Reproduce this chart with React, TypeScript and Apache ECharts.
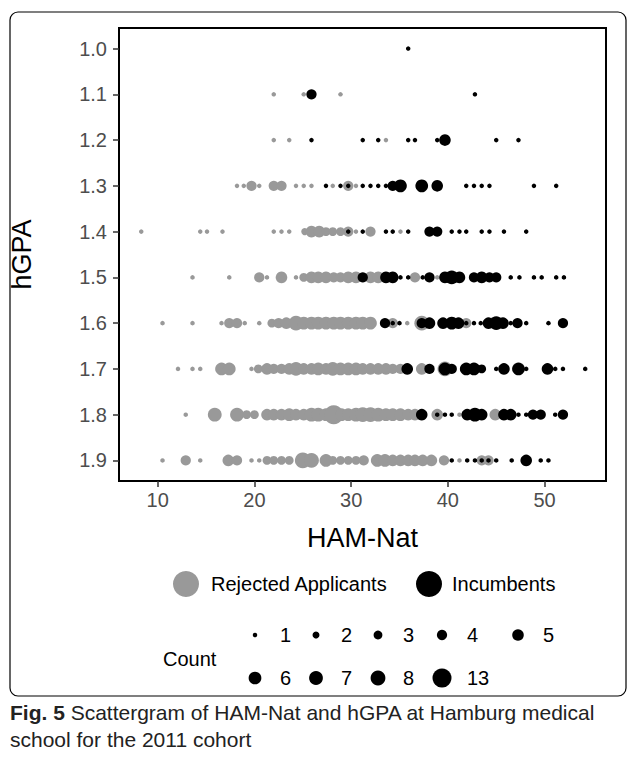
import React, { useEffect, useRef } from "react";
import * as echarts from "echarts";

// hGPA levels (y) and tick labels
const hGPALevels = [1.0, 1.1, 1.2, 1.3, 1.4, 1.5, 1.6, 1.7, 1.8, 1.9];
const xTicks = [10, 20, 30, 40, 50];

// [HAM-Nat, count] per hGPA level
const rej10: [number, number][] = [];
const inc10: [number, number][] = [[35.9, 1]];

const rej11: [number, number][] = [[22.0, 1], [25.1, 1], [28.9, 1]];
const inc11: [number, number][] = [[25.9, 4], [42.8, 1]];

const rej12: [number, number][] = [[22.0, 1], [23.6, 1], [33.6, 1]];
const inc12: [number, number][] = [[25.9, 1], [31.2, 1], [32.8, 1], [35.9, 1], [36.6, 1], [38.9, 1], [39.7, 5], [45.0, 1], [47.3, 1]];

const rej13: [number, number][] = [[18.2, 1], [18.9, 1], [19.7, 4], [20.5, 1], [22.0, 4], [22.8, 4], [24.3, 1], [25.1, 1], [25.9, 1], [28.1, 1], [29.7, 4], [30.5, 1]];
const inc13: [number, number][] = [[27.4, 1], [28.9, 1], [29.7, 1], [31.2, 1], [32.0, 1], [32.8, 1], [33.6, 1], [34.3, 4], [35.1, 6], [37.3, 6], [38.9, 5], [41.9, 1], [42.7, 1], [43.5, 1], [44.3, 1], [48.9, 1], [51.2, 1]];

const rej14: [number, number][] = [[8.3, 1], [14.4, 1], [15.1, 1], [16.7, 1], [22.0, 1], [22.8, 1], [23.6, 1], [25.2, 2], [25.9, 5], [26.7, 5], [27.4, 3], [28.1, 3], [28.9, 3], [29.7, 4], [30.5, 1], [32.0, 4], [35.1, 1]];
const inc14: [number, number][] = [[29.7, 1], [31.2, 1], [33.6, 1], [34.3, 1], [35.9, 1], [38.1, 4], [38.9, 4], [40.4, 1], [41.2, 1], [41.9, 1], [43.5, 1], [44.3, 1], [45.8, 1], [48.1, 1]];

const rej15: [number, number][] = [[13.6, 1], [17.4, 1], [20.5, 4], [21.3, 1], [22.8, 5], [24.3, 1], [25.1, 3], [25.9, 5], [26.6, 5], [27.4, 5], [28.2, 4], [28.9, 4], [29.7, 5], [30.5, 5], [32.0, 5], [32.8, 5], [36.6, 4], [38.9, 1]];
const inc15: [number, number][] = [[31.2, 4], [33.6, 5], [34.3, 5], [35.1, 1], [35.9, 1], [37.4, 1], [38.1, 4], [39.7, 5], [40.4, 7], [41.2, 5], [42.7, 4], [43.5, 5], [44.3, 4], [45.0, 4], [46.5, 1], [47.4, 1], [48.9, 1], [49.7, 1], [51.2, 1], [52.0, 1]];

const rej16: [number, number][] = [[10.5, 1], [13.6, 1], [16.6, 1], [17.4, 4], [18.2, 4], [19.0, 1], [20.5, 1], [21.8, 3], [22.5, 4], [23.3, 5], [24.3, 8], [25.1, 6], [25.9, 6], [26.6, 6], [27.4, 6], [28.2, 6], [28.9, 6], [29.7, 6], [30.5, 6], [31.2, 6], [32.0, 6], [34.3, 4], [35.8, 1], [37.3, 8], [41.9, 4]];
const inc16: [number, number][] = [[33.5, 4], [34.3, 1], [35.0, 1], [37.3, 4], [38.1, 5], [39.5, 5], [40.4, 6], [41.1, 5], [41.9, 1], [42.7, 1], [43.4, 1], [44.2, 5], [45.0, 7], [45.7, 5], [46.5, 1], [47.2, 4], [48.1, 1], [50.4, 1], [51.9, 4]];

const rej17: [number, number][] = [[12.1, 1], [13.6, 1], [14.4, 1], [16.6, 6], [17.4, 6], [19.7, 1], [20.4, 3], [21.3, 5], [22.0, 4], [22.8, 4], [23.6, 5], [24.3, 7], [25.1, 5], [25.9, 5], [26.6, 6], [27.4, 5], [28.1, 7], [28.9, 6], [29.7, 6], [30.5, 6], [31.2, 5], [32.0, 5], [32.8, 5], [33.6, 5], [34.3, 4], [35.1, 4], [37.3, 5], [39.7, 8]];
const inc17: [number, number][] = [[35.8, 5], [38.1, 4], [39.7, 6], [40.4, 4], [41.9, 6], [42.7, 6], [43.5, 3], [45.0, 1], [45.8, 5], [47.3, 6], [48.1, 1], [50.3, 5], [51.1, 1], [51.9, 1], [54.2, 1]];

const rej18: [number, number][] = [[12.9, 1], [15.9, 7], [18.2, 7], [19.2, 3], [20.0, 3], [21.3, 5], [22.0, 5], [22.8, 5], [23.6, 6], [24.3, 5], [25.1, 5], [25.9, 7], [26.6, 7], [27.4, 6], [28.2, 13], [29.0, 6], [29.7, 6], [30.5, 7], [31.2, 8], [32.0, 8], [32.8, 7], [33.6, 6], [34.3, 6], [35.1, 6], [35.9, 5], [36.6, 5], [38.9, 5], [41.2, 1], [44.9, 5]];
const inc18: [number, number][] = [[37.3, 5], [38.9, 1], [39.7, 1], [40.4, 1], [42.0, 5], [42.8, 7], [43.5, 5], [45.8, 5], [46.5, 5], [47.3, 1], [48.1, 1], [48.8, 4], [49.6, 4], [51.1, 1], [51.9, 4]];

const rej19: [number, number][] = [[10.5, 1], [12.9, 4], [14.4, 1], [17.3, 5], [18.2, 4], [19.7, 1], [20.5, 1], [21.3, 3], [22.0, 3], [22.8, 3], [23.6, 3], [25.0, 9], [25.9, 8], [27.4, 6], [28.1, 3], [28.9, 3], [29.7, 3], [30.5, 3], [31.3, 4], [32.7, 6], [33.5, 6], [34.3, 5], [35.1, 5], [35.9, 5], [36.6, 5], [37.4, 5], [38.3, 5], [39.6, 4], [41.2, 1], [43.5, 4], [44.2, 4]];
const inc19: [number, number][] = [[40.4, 1], [42.0, 1], [42.8, 1], [43.5, 1], [44.2, 1], [45.0, 1], [46.6, 1], [48.1, 5], [49.6, 1], [50.4, 1]];

const rejectedRows = [rej10, rej11, rej12, rej13, rej14, rej15, rej16, rej17, rej18, rej19];
const incumbentRows = [inc10, inc11, inc12, inc13, inc14, inc15, inc16, inc17, inc18, inc19];

// legends
const groupNames = ["Rejected Applicants", "Incumbents"];
const countRow1 = [1, 2, 3, 4, 5];
const countRow2 = [6, 7, 8, 13];

const FONT = "Liberation Sans, Arial, sans-serif";
const GRAY = "#999999";
const sizeOf = (n: number) => Math.sqrt(28.4 * n - 8.1);

function toSeriesData(rows: [number, number][][]) {
  const out: number[][] = [];
  rows.forEach((row, i) => {
    row.forEach(([x, c]) => out.push([x, hGPALevels[i], c]));
  });
  return out;
}

export default function App() {
  const ref = useRef<HTMLDivElement>(null);
  useEffect(() => {
    if (!ref.current) return;
    const chart = echarts.init(ref.current, undefined, { renderer: "svg" });

    const txt = (text: string, x: number, y: number, size: number, extra: any = {}) => ({
      type: "text",
      x,
      y,
      style: { text, fontSize: size, fontFamily: FONT, fill: "#000", verticalAlign: "middle", ...extra },
    });

    const legendGraphics: any[] = [];
    // group legend
    legendGraphics.push({ type: "circle", shape: { cx: 186, cy: 584, r: 13 }, style: { fill: GRAY } });
    legendGraphics.push(txt(groupNames[0], 211, 584, 20));
    legendGraphics.push({ type: "circle", shape: { cx: 429, cy: 584, r: 13 }, style: { fill: "#000" } });
    legendGraphics.push(txt(groupNames[1], 452, 584, 20));
    // count legend
    legendGraphics.push(txt("Count", 163, 659, 20));
    const row1X = [255, 316, 378, 442, 518];
    const row2X = [255, 316, 378, 442];
    countRow1.forEach((n, i) => {
      legendGraphics.push({ type: "circle", shape: { cx: row1X[i], cy: 635, r: sizeOf(n) / 2 }, style: { fill: "#000" } });
      legendGraphics.push(txt(String(n), row1X[i] + 25, 635, 20));
    });
    countRow2.forEach((n, i) => {
      legendGraphics.push({ type: "circle", shape: { cx: row2X[i], cy: 678, r: sizeOf(n) / 2 }, style: { fill: "#000" } });
      legendGraphics.push(txt(String(n), row2X[i] + 25, 678, 20));
    });

    chart.setOption({
      animation: false,
      backgroundColor: "#fff",
      grid: { left: 114, top: 28, width: 492, height: 453, show: true, borderColor: "#000", borderWidth: 2, backgroundColor: "transparent" },
      xAxis: {
        type: "value",
        min: 6.0,
        max: 56.35,
        splitLine: { show: false },
        axisLine: { show: false },
        axisTick: { show: true, length: 6, customValues: xTicks, lineStyle: { color: "#333", width: 1.5 } },
        axisLabel: { customValues: xTicks, fontSize: 20, color: "#4d4d4d", fontFamily: FONT, margin: 9 },
        name: "HAM-Nat",
        nameLocation: "middle",
        nameGap: 43,
        nameTextStyle: { fontSize: 27, color: "#000", fontFamily: FONT },
      },
      yAxis: {
        type: "value",
        inverse: true,
        min: 0.955,
        max: 1.945,
        splitLine: { show: false },
        axisLine: { show: false },
        axisTick: { show: true, length: 6, customValues: hGPALevels, lineStyle: { color: "#333", width: 1.5 } },
        axisLabel: { customValues: hGPALevels, fontSize: 20, color: "#4d4d4d", fontFamily: FONT, margin: 12, formatter: (v: number) => v.toFixed(1) },
        name: "hGPA",
        nameLocation: "middle",
        nameGap: 84,
        nameTextStyle: { fontSize: 27, color: "#000", fontFamily: FONT },
      },
      series: [
        {
          name: groupNames[0],
          type: "scatter",
          data: toSeriesData(rejectedRows),
          symbolSize: (v: number[]) => sizeOf(v[2]),
          itemStyle: { color: GRAY, opacity: 1 },
        },
        {
          name: groupNames[1],
          type: "scatter",
          data: toSeriesData(incumbentRows),
          symbolSize: (v: number[]) => sizeOf(v[2]),
          itemStyle: { color: "#000000", opacity: 1 },
        },
      ],
      graphic: [
        { type: "rect", shape: { x: 10, y: 12, width: 616, height: 684, r: 8 }, style: { fill: "none", stroke: "#000", lineWidth: 1.2 }, silent: true },
        ...legendGraphics,
        {
          type: "text",
          x: 10,
          y: 699,
          style: {
            text: "{b|Fig. 5} Scattergram of HAM-Nat and hGPA at Hamburg medical\nschool for the 2011 cohort",
            fontSize: 21,
            lineHeight: 27,
            fontFamily: FONT,
            fill: "#222",
            rich: { b: { fontWeight: "bold", fontSize: 21, fontFamily: FONT, fill: "#222" } },
          },
        },
      ],
    });
    return () => chart.dispose();
  }, []);
  return <div ref={ref} style={{ position: "absolute", left: 0, top: 0, width: 629, height: 762, background: "#fff" }} />;
}
